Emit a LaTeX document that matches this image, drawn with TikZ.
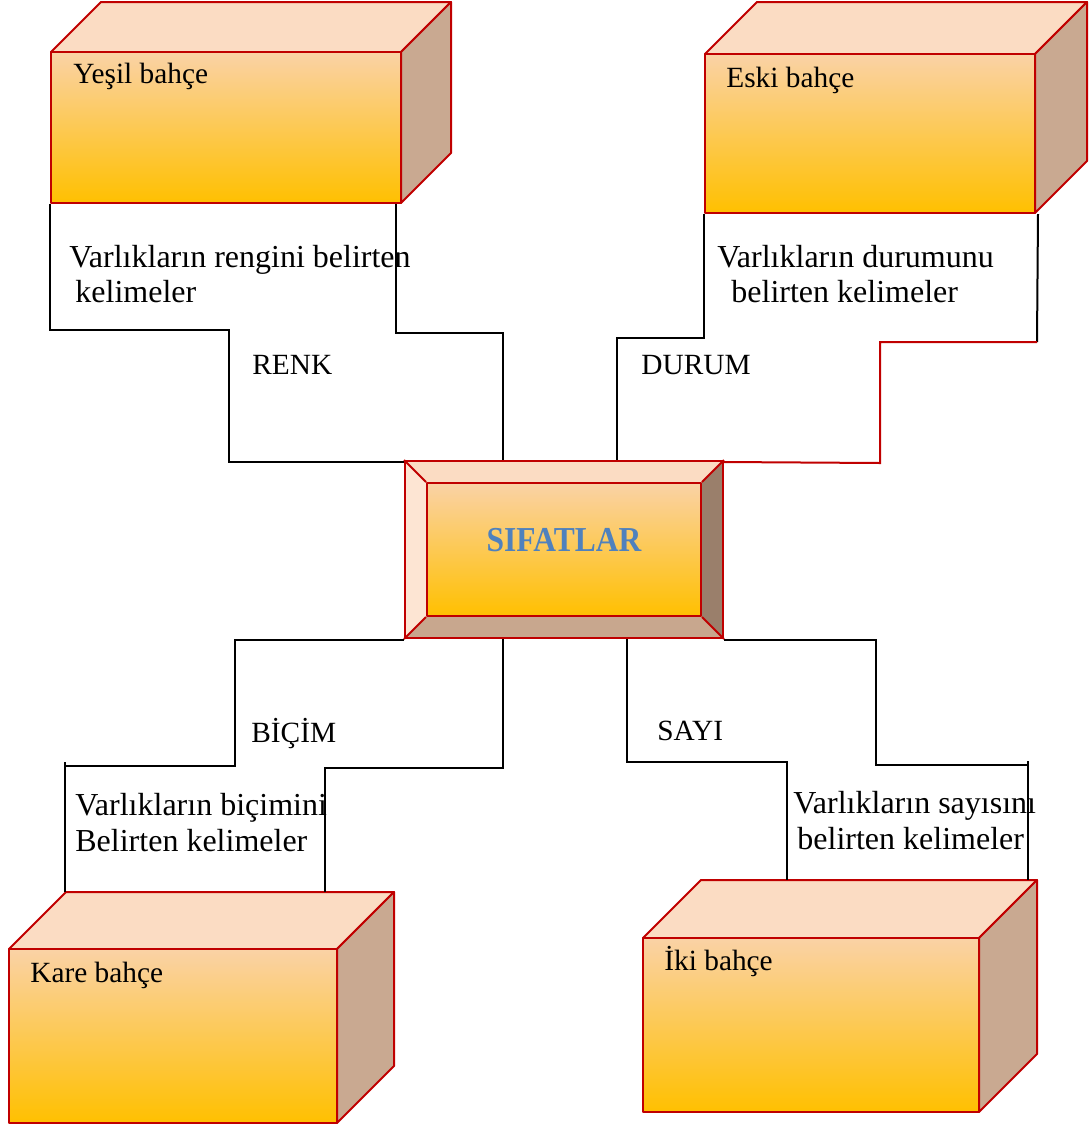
\documentclass[tikz,border=0pt]{standalone}
\usepackage{fontspec}
\setmainfont{Liberation Serif}
\usetikzlibrary{calc,fit}
\definecolor{boxred}{HTML}{C00000}
\definecolor{topc}{HTML}{FBDCC3}
\definecolor{sidec}{HTML}{C9A991}
\definecolor{fronttop}{HTML}{FAD2A6}
\definecolor{frontbot}{HTML}{FFC000}
\definecolor{bevL}{HTML}{FDE5D3}
\definecolor{bevR}{HTML}{9A7F6B}
\definecolor{bevB}{HTML}{C8A78E}
\definecolor{sifblue}{HTML}{4F81BD}
\tikzset{
  face/.style={draw=boxred, line width=1pt, line join=round},
  topface/.style={face, fill=topc},
  sideface/.style={face, fill=sidec},
  frontface/.style={face, top color=fronttop, bottom color=frontbot, inner sep=0pt},
  conn/.style={line width=1pt, line join=miter},
  desc/.style={font=\fontsize{16}{18}\selectfont, inner sep=0pt, anchor=base west},
  lbl/.style={font=\fontsize{14.67}{17}\selectfont, inner sep=0pt, anchor=base west},
}
\newcommand\mycube[6]{%
  \draw[topface] (#2,#3) -- (#2+#6,#3-#6) -- (#4+#6,#3-#6) -- (#4,#3) -- cycle;
  \draw[sideface] (#4,#3) -- (#4+#6,#3-#6) -- (#4+#6,#5-#6) -- (#4,#5) -- cycle;
  \node[frontface, fit={(#2,#3) (#4,#5)}] (#1) {};
  \coordinate (#1t) at (#2+#6,#3-#6);
}
\begin{document}
\begin{tikzpicture}[x=0.5pt,y=-0.5pt]
\useasboundingbox (0,0) rectangle (1090,1126);

% cubes
\mycube{yesil}{51}{52}{401}{203}{50}
\mycube{eski}{705}{54}{1035}{213}{52}
\mycube{kare}{9}{949}{337}{1123}{57}
\mycube{iki}{643}{938}{979}{1112}{58}

% central bevelled box
\fill[bevL] (405,461) -- (427,483) -- (427,616) -- (405,638) -- cycle;
\fill[topc] (405,461) -- (723,461) -- (701,483) -- (427,483) -- cycle;
\fill[bevR] (723,461) -- (723,638) -- (701,616) -- (701,483) -- cycle;
\fill[bevB] (405,638) -- (427,616) -- (701,616) -- (723,638) -- cycle;
\node[fit={(405,461) (723,638)}, inner sep=0pt, draw=boxred, line width=1pt] (sifat) {};
\node[frontface, fit={(427,483) (701,616)}] (sifatin) {};
\draw[face] (sifat.north west) -- (sifatin.north west)
            (sifat.north east) -- (sifatin.north east)
            (sifat.south west) -- (sifatin.south west)
            (sifat.south east) -- (sifatin.south east);
\node[font=\bfseries\fontsize{17.5}{20}\selectfont, text=sifblue, inner sep=0pt] (sifattext) at (564,540) {\scalebox{0.9}[1]{SIFATLAR}};

% connectors: RENK
\draw[conn] (yesil.south west) |- (229,330) |- ($(sifat.north west)+(0,2)$);
\draw[conn] ($(yesil.south east)+(-6,0)$) |- (503,333) -- (503,333 |- sifat.north);
% DURUM
\draw[conn] (eski.south west) |- (617,338) -- (617,338 |- sifat.north);
\draw[conn] ($(eski.south east)+(2,0)$) -- (1037,342);
\draw[conn, boxred] (1037,342) -| (880,463) -- ($(sifat.north east)+(0,2)$);
% BICIM
\draw[conn] ($(sifat.south west)+(0,1)$) -| (235,766) -- (65,766);
\draw[conn] (65,762) -- (65,0 |- karet);
\draw[conn] (503,0 |- sifat.south) |- (325,768) -- (325,0 |- karet);
% SAYI
\draw[conn] (627,0 |- sifat.south) |- (787,762) -- (787,0 |- ikit);
\draw[conn] ($(sifat.south east)+(0,1)$) -| (876,765) -- (1028,765);
\draw[conn] (1028,761) -- (1028,0 |- ikit);

% texts
\node[lbl] (t1) at (73,83) {Yeşil bahçe};
\node[lbl] (t2) at (726,87) {Eski bahçe};
\node[lbl] (t3) at (30,982) {Kare bahçe};
\node[lbl] (t4) at (664,970) {İki bahçe};
\node[desc] (d1a) at (69,267) {Varlıkların rengini belirten};
\node[desc] (d1b) at (75,302) {kelimeler};
\node[lbl] (l1) at (252,374) {RENK};
\node[desc] (d2a) at (717,267) {Varlıkların durumunu};
\node[desc] (d2b) at (731,302) {belirten kelimeler};
\node[lbl] (l2) at (641,374) {DURUM};
\node[lbl] (l3) at (251,742) {BİÇİM};
\node[desc] (d3a) at (75,815) {Varlıkların biçimini};
\node[desc] (d3b) at (75,851) {Belirten kelimeler};
\node[lbl] (l4) at (657,740) {SAYI};
\node[desc] (d4a) at (793,813) {Varlıkların sayısını};
\node[desc] (d4b) at (797,849) {belirten kelimeler};
\end{tikzpicture}
\end{document}
